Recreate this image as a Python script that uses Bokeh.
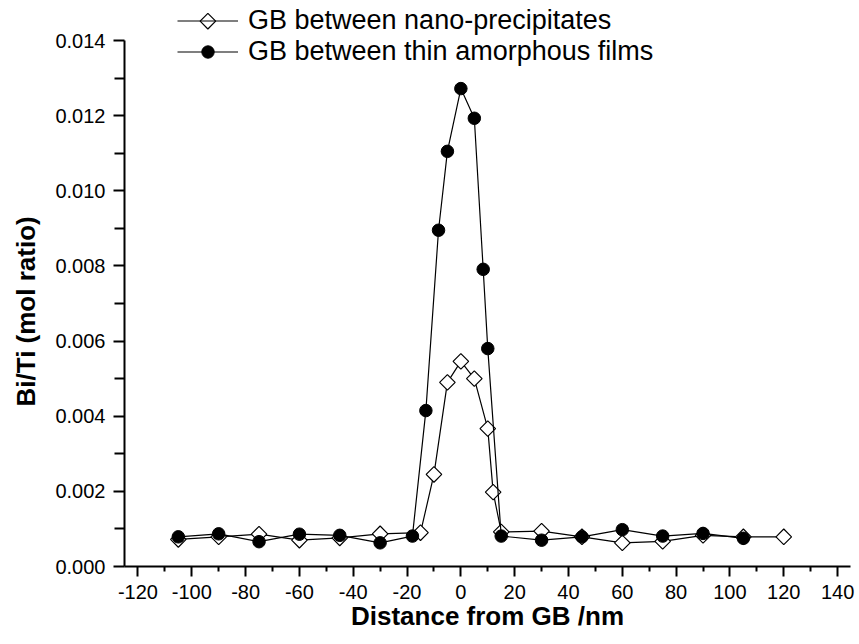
import numpy as np
from bokeh.plotting import figure
from bokeh.models import Range1d, FixedTicker, Legend, LegendItem, ColumnDataSource, Title
from bokeh.embed import file_html
from bokeh.resources import INLINE

# Data
nano_x = [-105, -90, -75, -60, -45, -30, -15, -10, -5, 0, 5, 10, 12, 15, 30, 45, 60, 75, 90, 105, 120]
nano_y = [0.00072, 0.00079, 0.00086, 0.00070, 0.00076, 0.00087, 0.00090, 0.00245, 0.00490, 0.00546,
          0.00500, 0.00367, 0.00198, 0.00092, 0.00094, 0.00079, 0.00063, 0.00067, 0.00083, 0.00079, 0.00079]
film_x = [-105, -90, -75, -60, -45, -30, -18, -13, -8.3, -5, 0, 5, 8.3, 10, 15, 30, 45, 60, 75, 90, 105]
film_y = [0.00079, 0.00087, 0.00066, 0.00086, 0.00083, 0.00063, 0.00081, 0.00415, 0.00895, 0.01105,
          0.01272, 0.01193, 0.00791, 0.00580, 0.00081, 0.00070, 0.00079, 0.00098, 0.00081, 0.00088, 0.00075]

x_ticks = [-120, -100, -80, -60, -40, -20, 0, 20, 40, 60, 80, 100, 120, 140]
x_minor = [-110, -90, -70, -50, -30, -10, 10, 30, 50, 70, 90, 110, 130]
y_ticks = [0.000, 0.002, 0.004, 0.006, 0.008, 0.010, 0.012, 0.014]
y_minor = [0.001, 0.003, 0.005, 0.007, 0.009, 0.011, 0.013]
y_labels = ["0.000", "0.002", "0.004", "0.006", "0.008", "0.010", "0.012", "0.014"]

label_nano = "GB between nano-precipitates"
label_film = "GB between thin amorphous films"
x_title = "Distance from GB /nm"
y_title = "Bi/Ti (mol ratio)"

FONT = "Liberation Sans"

# layout constants (pixels)
W, H = 857, 642
FL, FR_B, FB = 123, 7, 76          # frame left border, right border, bottom border
FRAME_W = W - FL - FR_B
FRAME_H = H - FB                   # frame starts at the very top (room for the legend)
AXIS_PX = 526                      # pixels spanned by 0 .. 0.014
X0, X1 = -125, 144.8
Y_MAX = 0.014
Y_TOP = Y_MAX * FRAME_H / AXIS_PX

p = figure(width=W, height=H,
           x_range=Range1d(X0, X1), y_range=Range1d(0, Y_TOP),
           output_backend="svg", toolbar_location=None,
           min_border_left=FL, min_border_top=0, min_border_right=FR_B, min_border_bottom=FB)
p.outline_line_color = None
p.xgrid.visible = False
p.ygrid.visible = False
p.background_fill_color = "white"
p.border_fill_color = "white"

src_n = ColumnDataSource(dict(x=nano_x, y=nano_y))
src_f = ColumnDataSource(dict(x=film_x, y=film_y))

ln = p.line("x", "y", source=src_n, line_color="black", line_width=1.2)
mn = p.scatter("x", "y", source=src_n, marker="square", angle=np.pi / 4, size=11,
               fill_color="white", line_color="black", line_width=1.2)
lf = p.line("x", "y", source=src_f, line_color="black", line_width=1.2)
mf = p.scatter("x", "y", source=src_f, marker="circle", size=12.5,
               fill_color="black", line_color="black", line_width=1)

# Axes
xa = p.xaxis[0]
xa.ticker = FixedTicker(ticks=x_ticks, minor_ticks=x_minor)
xa.major_label_overrides = {t: str(t) for t in x_ticks}
xa.axis_label = x_title
ya = p.yaxis[0]
ya.ticker = FixedTicker(ticks=y_ticks, minor_ticks=y_minor)
ya.major_label_overrides = {t: l for t, l in zip(y_ticks, y_labels)}
ya.bounds = (0, Y_MAX)

for ax in (xa, ya):
    ax.axis_line_width = 2
    ax.axis_line_color = "black"
    ax.major_tick_line_width = 2
    ax.minor_tick_line_width = 2
    ax.major_tick_line_color = "black"
    ax.minor_tick_line_color = "black"
    ax.major_tick_in = 0
    ax.minor_tick_in = 0
    ax.major_label_text_font = FONT
    ax.major_label_text_font_size = "20px"
    ax.major_label_text_color = "black"
    ax.axis_label_text_font = FONT
    ax.axis_label_text_font_style = "bold"
    ax.axis_label_text_font_size = "26px"
    ax.axis_label_text_color = "black"

xa.major_tick_out = 10
xa.minor_tick_out = 5
xa.major_label_standoff = 8
xa.axis_label_standoff = -1
ya.major_tick_out = 11
ya.minor_tick_out = 10
ya.major_label_standoff = 8

# y title placed along the drawn axis (0 .. 0.014), not the taller frame
ytitle = Title(text=y_title, align="left", offset=160, standoff=20, vertical_align="top",
               text_font=FONT, text_font_style="bold", text_font_size="26px",
               text_color="black")
p.add_layout(ytitle, "left")

# Legend
ROW = 31
LEG_X, LEG_BOTTOM_PX = 53, 67.2
legend = Legend(items=[LegendItem(label=label_nano, renderers=[ln]),
                       LegendItem(label=label_film, renderers=[lf, mf])],
                location=(LEG_X, FRAME_H - LEG_BOTTOM_PX), orientation="vertical",
                glyph_width=61, glyph_height=ROW, label_height=ROW, spacing=0,
                padding=0, margin=0, label_standoff=10,
                border_line_color=None, background_fill_alpha=0,
                label_text_font=FONT, label_text_font_size="27px", label_text_color="black")
p.add_layout(legend, "center")

# rotated-square key for the first legend row (legend keys ignore marker angle)
key_sx = LEG_X + 61 / 2
key_sy_from_top = LEG_BOTTOM_PX - 1.5 * ROW
key_src = ColumnDataSource(dict(
    x=[X0 + key_sx * (X1 - X0) / FRAME_W],
    y=[(FRAME_H - key_sy_from_top) * Y_MAX / AXIS_PX]))
key = p.scatter("x", "y", source=key_src, marker="square", angle=np.pi / 4, size=11,
                fill_color="white", line_color="black", line_width=1.2, level="overlay")

html = file_html(p, INLINE)
open("out.html", "w").write(html)
